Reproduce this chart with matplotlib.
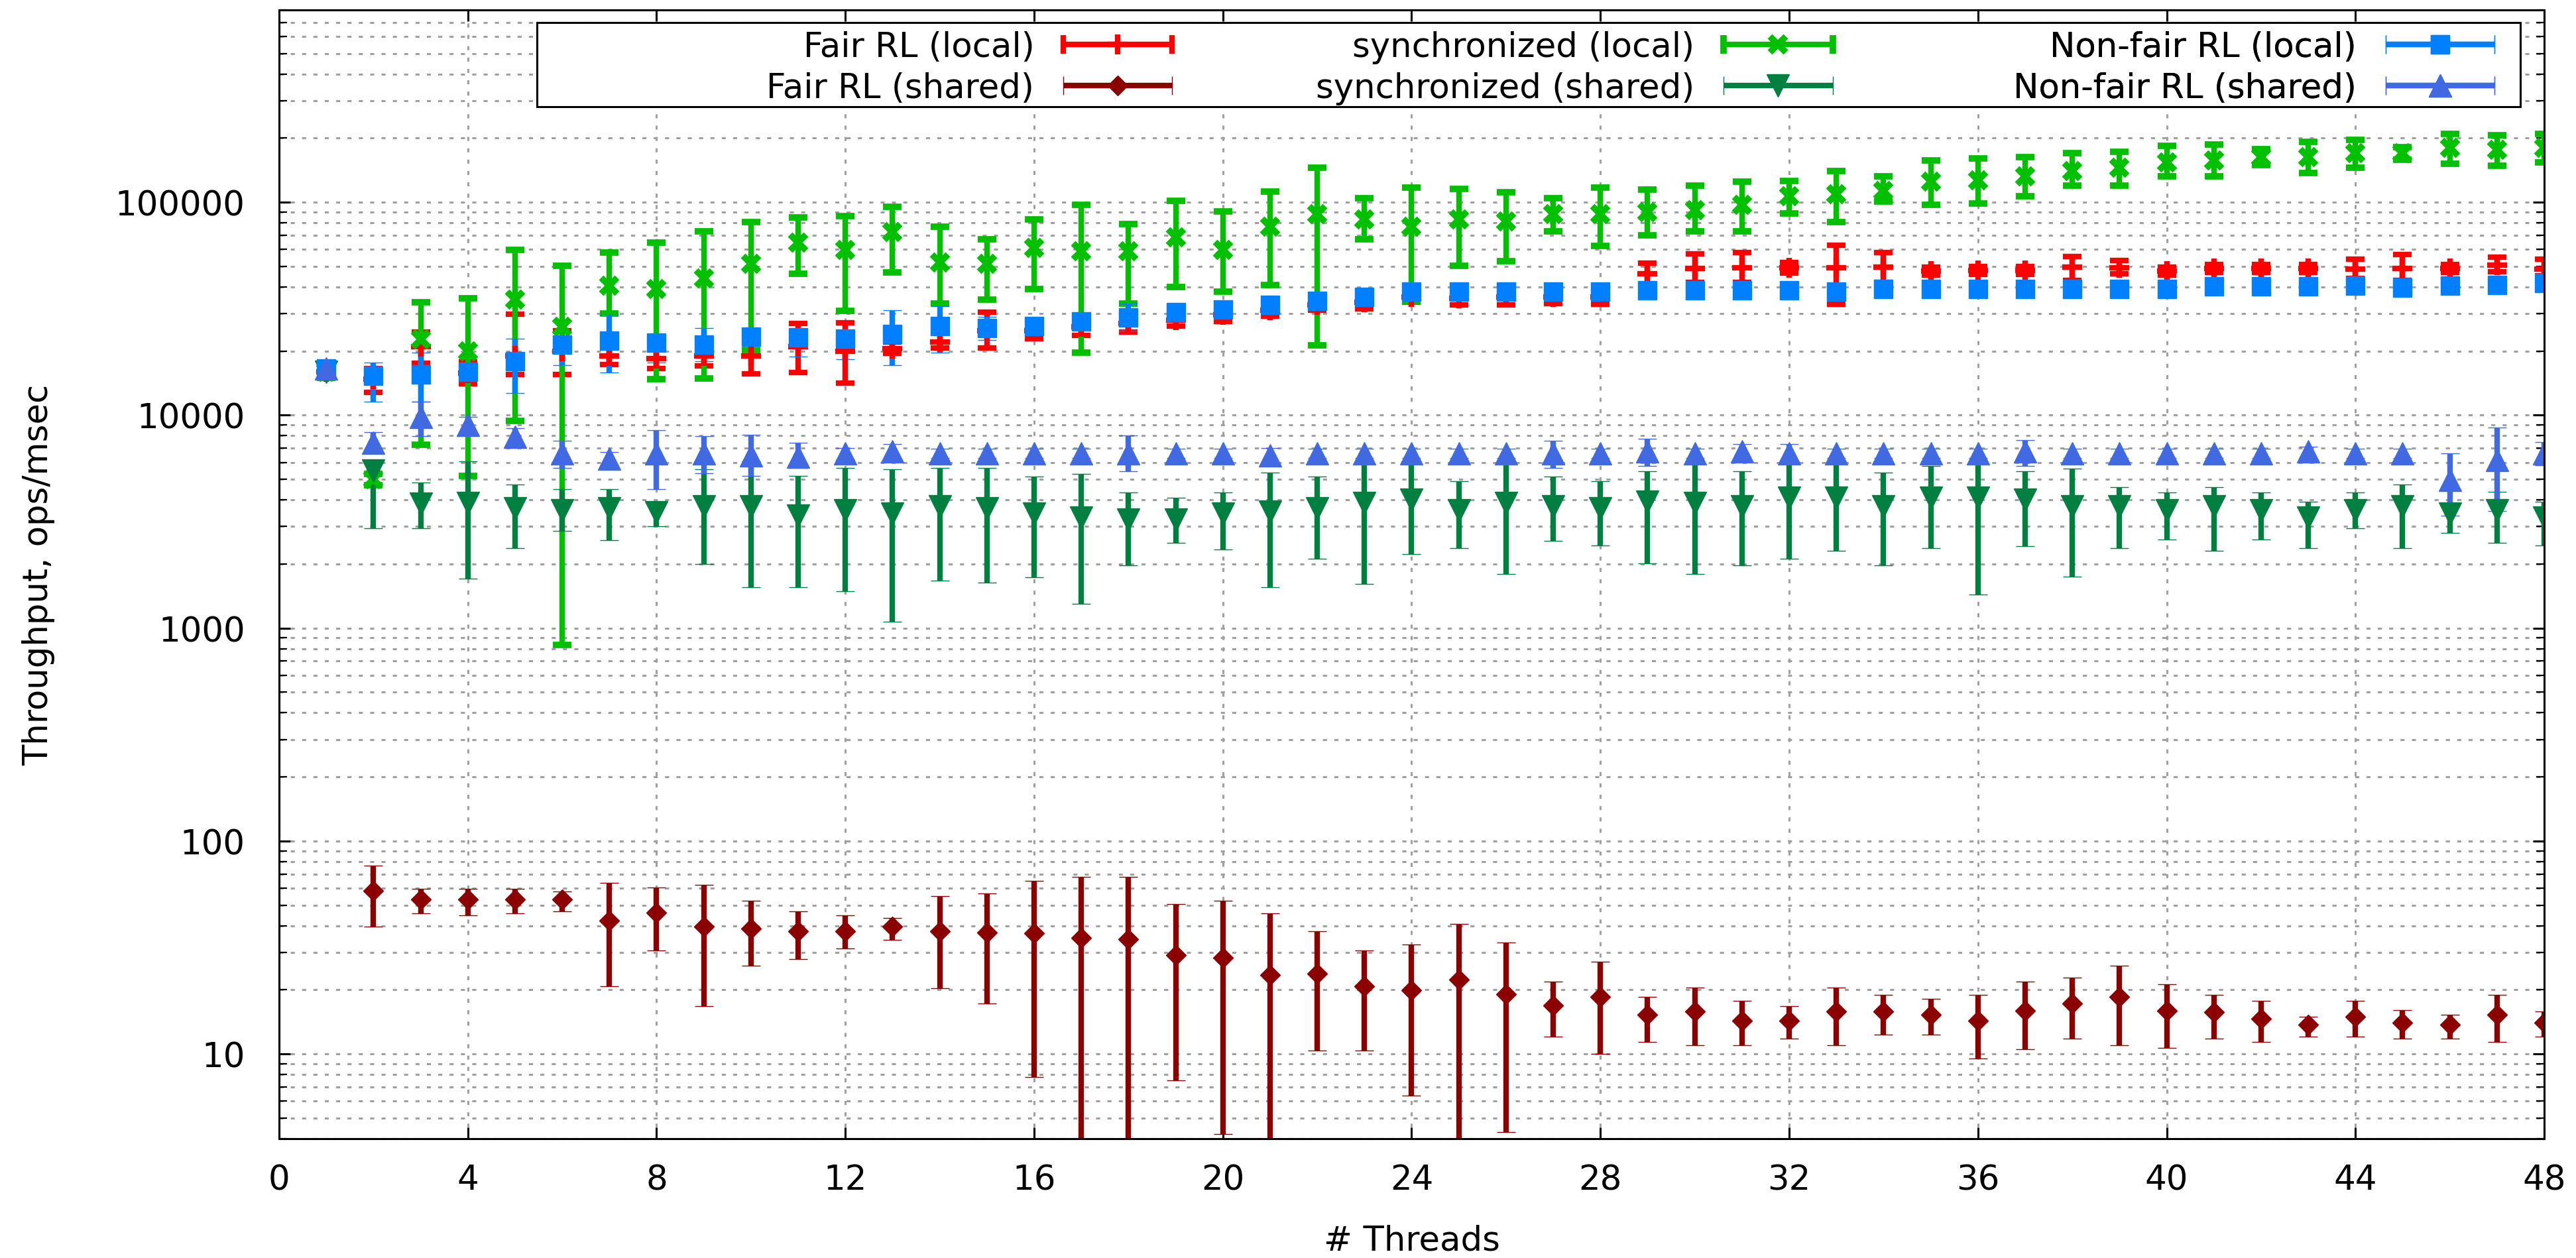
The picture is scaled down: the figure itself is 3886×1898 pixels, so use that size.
import numpy as np
import matplotlib
matplotlib.use("Agg")
import matplotlib.pyplot as plt
from matplotlib.container import ErrorbarContainer
from matplotlib.legend_handler import HandlerErrorbar
from matplotlib.patches import Rectangle
from matplotlib.ticker import FixedLocator, FixedFormatter, LogLocator, NullFormatter

# ---- data ----
threads = list(range(1, 49))

fair_local = [16000, 14800, 21000, 15700, 19000, 20000, 19000, 18500, 19000, 19000,
              21000, 20000, 20500, 22000, 25000, 25000, 26000, 27000, 28000, 29500,
              31000, 33000, 34000, 36000, 35500, 36000, 36000, 36000, 46000, 48900,
              49300, 49300, 49300, 49700, 47500, 47800, 47800, 49700, 49300, 47500,
              48900, 48900, 48900, 48400, 49000, 49000, 50600, 48400]
fair_local_lo = [15000, 12800, 17500, 14000, 15500, 15500, 17300, 16500, 17000, 15600,
                 15900, 14100, 19500, 20700, 20700, 22800, 23700, 24500, 26100, 27600,
                 29200, 31000, 31600, 34000, 32900, 32900, 33500, 33200, 40000, 42000,
                 42000, 46500, 33200, 42000, 45500, 45800, 45800, 43000, 46000, 45500,
                 46800, 46800, 46800, 44000, 43000, 46800, 47000, 45000]
fair_local_hi = [17000, 16600, 24500, 17800, 29800, 25000, 21000, 21000, 21500, 23000,
                 27000, 27100, 22000, 25000, 30400, 27000, 28000, 29500, 30000, 31500,
                 33000, 35000, 36000, 38000, 38000, 38000, 38000, 38500, 51600, 57100,
                 58000, 52000, 62600, 58000, 49500, 50000, 50000, 55400, 53300, 49500,
                 51000, 51000, 51000, 54200, 56600, 51000, 55000, 54200]

fair_shared = [np.nan, 58.2, 53.1, 53.1, 53.1, 53.1, 42.2, 46.0, 39.7, 38.8,
               37.7, 37.7, 39.7, 37.7, 37.1, 36.9, 35.1, 34.6, 29.2, 28.3,
               23.5, 23.9, 20.8, 19.9, 22.4, 19.1, 16.9, 18.5, 15.3, 15.8,
               14.3, 14.3, 15.8, 15.8, 15.3, 14.3, 16.0, 17.3, 18.5, 16.0,
               15.7, 14.6, 13.7, 15.0, 14.0, 13.7, 15.3, 14.0]
fair_shared_lo = [np.nan, 39.6, 45.6, 44.7, 45.6, 46.7, 20.8, 30.6, 16.8, 25.9,
                  27.8, 31.2, 34.4, 20.3, 17.2, 7.8, 4.0, 4.0, 7.5, 4.2,
                  4.0, 10.4, 10.4, 6.35, 4.0, 4.3, 12.1, 10.0, 11.4, 11.0,
                  11.0, 11.8, 11.0, 12.3, 12.3, 9.5, 10.5, 11.8, 11.0, 10.7,
                  11.8, 11.4, 12.1, 12.1, 11.8, 11.8, 11.4, 12.1]
fair_shared_hi = [np.nan, 76.9, 59.5, 59.5, 59.5, 57.9, 63.5, 60.7, 62.1, 52.6,
                  46.7, 44.7, 43.4, 55.1, 56.7, 65.2, 68.0, 68.0, 50.4, 52.6,
                  45.6, 37.7, 30.6, 32.7, 40.7, 33.4, 21.9, 27.1, 18.6, 20.5,
                  17.8, 16.8, 20.5, 19.0, 18.1, 19.0, 21.9, 22.9, 25.9, 21.3,
                  19.0, 17.7, 14.9, 17.7, 16.1, 15.3, 19.0, 15.8]

sync_local = [16000, 5000, 22700, 19900, 34800, 26000, 40700, 39100, 43900, 51300,
              64600, 59800, 72600, 52300, 51300, 60900, 58700, 58700, 68500, 59800,
              76900, 88000, 83100, 76900, 83100, 81500, 88000, 88000, 89700, 91500,
              97000, 106800, 108900, 113200, 124700, 127000, 132300, 139900, 145600, 154100,
              157000, 163200, 163200, 169600, 169600, 179700, 176400, 179700]
sync_local_lo = [15000, 4700, 7250, 5200, 9370, 832, 30000, 14800, 14900, 20300,
                 46000, 30800, 46900, 33500, 34800, 39100, 19700, 33500, 39900, 38100,
                 40900, 21300, 67200, 34200, 50300, 52900, 73200, 62200, 69900, 73200,
                 73200, 88700, 80900, 100800, 97000, 98800, 106800, 119800, 119800, 132300,
                 132300, 150000, 137300, 145600, 158000, 151200, 148300, 154100]
sync_local_hi = [17000, 5300, 33800, 35500, 59800, 50300, 57900, 64600, 73200, 80900,
                 84700, 86300, 95100, 76900, 67200, 82800, 97000, 79000, 101500, 90800,
                 112000, 145000, 104700, 117500, 115300, 111800, 104700, 117500, 114500, 119800,
                 124700, 125600, 139900, 132300, 157000, 160100, 163200, 169600, 173000, 183600,
                 187200, 178000, 192300, 196600, 182000, 210000, 207000, 210000]

sync_shared = [16000, 5500, 3850, 3860, 3650, 3570, 3650, 3500, 3720, 3720,
               3380, 3570, 3440, 3720, 3650, 3440, 3300, 3240, 3240, 3440,
               3510, 3650, 3860, 4000, 3570, 3860, 3720, 3650, 3930, 3860,
               3720, 4090, 4090, 3720, 4090, 4090, 4000, 3720, 3720, 3570,
               3720, 3570, 3300, 3570, 3720, 3440, 3570, 3300]
sync_shared_lo = [15000, 2940, 2940, 1710, 2370, 2850, 2580, 3000, 2000, 1550,
                  1550, 1490, 1070, 1670, 1630, 1730, 1300, 1970, 2520, 2340,
                  1560, 2120, 1610, 2220, 2380, 1800, 2560, 2450, 2020, 1800,
                  1970, 2120, 2300, 1970, 2380, 1440, 2420, 1750, 2380, 2610,
                  2300, 2610, 2380, 2940, 2380, 2800, 2520, 2450]
sync_shared_hi = [17000, 6000, 4840, 6060, 4720, 4490, 4490, 3900, 5550, 6050,
                  5200, 5660, 5550, 5660, 5660, 5160, 5300, 4330, 4090, 4330,
                  5360, 5160, 5880, 5970, 4890, 5880, 5160, 4890, 5470, 6060,
                  5470, 5880, 5880, 5370, 5770, 6060, 5470, 5610, 4600, 4330,
                  4600, 4330, 3930, 4330, 4720, 3860, 4350, 3930]

nonfair_local = [16500, 15300, 15500, 15950, 17900, 21500, 22300, 21900, 21500, 23300,
                 23200, 22900, 24100, 26100, 25600, 26100, 27600, 28800, 30400, 31300,
                 33000, 34400, 36000, 37900, 37900, 37900, 37900, 37900, 38500, 38500,
                 38500, 38500, 38000, 39000, 39000, 39000, 39000, 39000, 39000, 39000,
                 40200, 40200, 40200, 40500, 39600, 40500, 40900, 41600]
nonfair_local_lo = [15800, 11600, 11600, 14800, 12700, 17200, 15900, 17700, 17900, 18900,
                    18900, 18300, 17100, 19700, 22500, 24500, 25500, 25000, 28500, 29500,
                    31000, 32500, 34000, 36000, 36000, 36000, 36000, 36000, 36500, 36500,
                    36500, 36500, 36000, 37000, 37000, 37000, 37000, 37000, 37000, 37000,
                    38200, 38200, 38200, 38500, 37600, 38500, 38900, 39500]
nonfair_local_hi = [17300, 17600, 19600, 17200, 22900, 23500, 29500, 23500, 25600, 25000,
                    25000, 25000, 31100, 32500, 29000, 28000, 30000, 33500, 32500, 33000,
                    35000, 36500, 38000, 39800, 39800, 39800, 39800, 39800, 40500, 40500,
                    40500, 40500, 40000, 41000, 41000, 41000, 41000, 41000, 41000, 41000,
                    42200, 42200, 42200, 42500, 41600, 42500, 42900, 43700]

nonfair_shared = [16500, 7420, 9800, 9010, 7900, 6620, 6250, 6620, 6620, 6480,
                  6360, 6620, 6750, 6620, 6620, 6620, 6620, 6620, 6620, 6620,
                  6480, 6620, 6620, 6620, 6620, 6620, 6620, 6620, 6750, 6620,
                  6750, 6620, 6620, 6620, 6620, 6620, 6750, 6620, 6620, 6620,
                  6620, 6620, 6750, 6620, 6620, 4950, 6140, 6620]
nonfair_shared_lo = [15800, 6800, 7950, 8300, 7300, 5660, 5800, 4490, 5320, 5200,
                     5660, 6200, 6200, 6300, 6300, 6300, 6300, 5470, 6300, 6300,
                     6000, 6300, 6300, 6300, 6300, 6300, 5660, 6300, 5770, 6300,
                     6100, 6100, 6300, 6300, 6300, 6300, 5770, 6300, 6300, 6300,
                     6300, 6300, 6300, 6300, 6300, 3380, 3550, 5830]
nonfair_shared_hi = [17300, 8300, 11600, 9800, 8700, 7560, 6700, 8510, 7950, 8100,
                     7440, 7000, 7300, 6950, 6950, 6950, 6950, 8030, 6950, 6950,
                     7000, 6950, 6950, 6950, 6950, 6950, 7560, 6950, 7770, 6950,
                     7300, 7300, 6950, 6950, 6950, 6950, 7650, 6950, 6950, 6950,
                     6950, 6950, 7100, 6950, 6950, 6620, 8740, 7470]

labels = ["Fair RL (local)", "Fair RL (shared)",
          "synchronized (local)", "synchronized (shared)",
          "Non-fair RL (local)", "Non-fair RL (shared)"]
x_ticks = list(range(0, 49, 4))
y_ticks = [10, 100, 1000, 10000, 100000]
y_tick_labels = ["10", "100", "1000", "10000", "100000"]

# ---- styling ----
plt.rcParams["font.family"] = ["DejaVu Sans"]
plt.rcParams["font.size"] = 37

series = [
    (fair_local, fair_local_lo, fair_local_hi, "#ff0000", "+", 21, 6),
    (fair_shared, fair_shared_lo, fair_shared_hi, "#8b0000", "D", 15, 1),
    (sync_local, sync_local_lo, sync_local_hi, "#00c000", "x", 17, 7),
    (sync_shared, sync_shared_lo, sync_shared_hi, "#008040", "v", 25, 1),
    (nonfair_local, nonfair_local_lo, nonfair_local_hi, "#0080ff", "s", 20.5, 1),
    (nonfair_shared, nonfair_shared_lo, nonfair_shared_hi, "#4169e1", "^", 25, 1),
]

fig = plt.figure(figsize=(38.87, 18.99), dpi=100)
ax = fig.add_axes([0.1083, 0.0948, 0.8791, 0.8968])
ax.set_yscale("log")

proxies = []
for (mean, lo, hi, color, marker, ms, mew), label in zip(series, labels):
    mean = np.asarray(mean, dtype=float)
    lo = np.asarray(lo, dtype=float)
    hi = np.asarray(hi, dtype=float)
    cont = ax.errorbar(threads, mean, yerr=[mean - lo, hi - mean], fmt=marker,
                       color=color, ms=ms, mew=mew, mec=color,
                       elinewidth=6, capsize=10.4, capthick=6)
    proxies.append(ErrorbarContainer(cont.lines, has_xerr=True, has_yerr=False,
                                     label=label))

ax.set_xlim(0, 48)
ax.set_ylim(4, 800000)
ax.xaxis.set_major_locator(FixedLocator(x_ticks))
ax.yaxis.set_major_locator(FixedLocator(y_ticks))
ax.yaxis.set_major_formatter(FixedFormatter(y_tick_labels))
ax.yaxis.set_minor_locator(LogLocator(base=10, subs=np.arange(2, 10)))
ax.yaxis.set_minor_formatter(NullFormatter())

ax.tick_params(which="major", direction="in", length=12, width=2.2,
               top=True, right=True, labelsize=37)
ax.tick_params(axis="x", which="major", pad=27)
ax.tick_params(axis="y", which="major", pad=37)
ax.tick_params(which="minor", direction="in", length=8.6, width=1.6,
               top=True, right=True)
for sp in ax.spines.values():
    sp.set_linewidth(2.2)

grid_style = dict(color="#a0a0a0", lw=2.2, ls=(0, (2.0, 3.6)))
ax.grid(True, which="major", axis="x", **grid_style)
ax.grid(True, which="both", axis="y", **grid_style)
ax.set_axisbelow(True)

ax.set_xlabel("# Threads")
ax.xaxis.set_label_coords(0.5, -0.0757)
ax.set_ylabel("Throughput, ops/msec")
ax.yaxis.set_label_coords(-0.099, 0.5)

# legend: boxed, three right-aligned columns like the gnuplot key
ax.add_patch(Rectangle((0.1138, 0.9143), 0.8757, 0.0746, transform=ax.transAxes,
                       facecolor="white", edgecolor="black", lw=2.2, zorder=4.5))
hmap = {ErrorbarContainer: HandlerErrorbar(xerr_size=1.6)}
col_right = [0.3951, 0.6866, 0.9789]
for i, xr in enumerate(col_right):
    leg = ax.legend(handles=proxies[2 * i:2 * i + 2], labels=labels[2 * i:2 * i + 2],
                    loc="center right", bbox_to_anchor=(xr, 0.9490),
                    frameon=False, markerfirst=False, borderpad=0, borderaxespad=0,
                    handlelength=3.3, handletextpad=0.8, labelspacing=0.24,
                    handler_map=hmap, fontsize=37)
    ax.add_artist(leg)

fig.savefig("out.png", dpi=100)
